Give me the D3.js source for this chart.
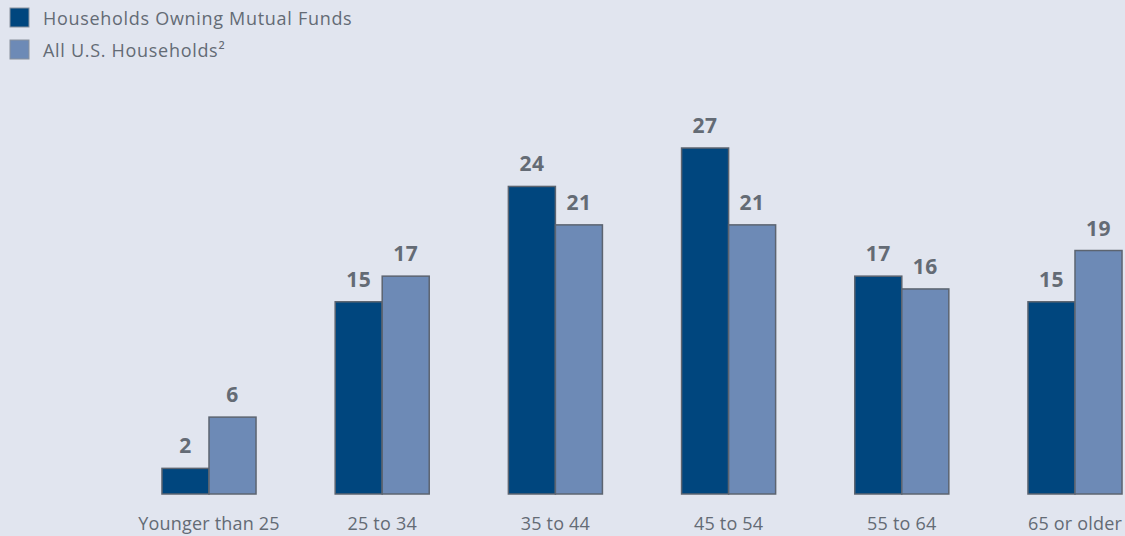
<!DOCTYPE html>
<html>
<head>
<meta charset="utf-8">
<script src="https://cdn.jsdelivr.net/npm/d3@7"></script>
<style>
  body { margin: 0; background: #e1e5ef; }
  svg { display: block; font-family: "Open Sans", sans-serif; }
</style>
</head>
<body>
<div id="chart"></div>
<script>
var categories = ["Younger than 25", "25 to 34", "35 to 44", "45 to 54", "55 to 64", "65 or older"];
var seriesNames = ["Households Owning Mutual Funds", "All U.S. Households\u00B2"];
var fundOwners = [2, 15, 24, 27, 17, 15];
var allHouseholds = [6, 17, 21, 21, 16, 19];
var colors = ["#00467e", "#6d8ab6"];

var width = 1125, height = 536;
var baseY = 494, topY = 148;

var svg = d3.select("#chart").append("svg")
    .attr("width", width)
    .attr("height", height);

svg.append("rect").attr("width", width).attr("height", height).attr("fill", "#e1e5ef");

var x = d3.scaleBand()
    .domain(categories)
    .range([122.4, 1161.6])
    .paddingInner(0.457)
    .paddingOuter(0.2285);

var sub = d3.scaleBand()
    .domain([0, 1])
    .range([0, x.bandwidth()]);

var y = d3.scaleLinear()
    .domain([0, 27])
    .range([baseY, topY]);

var rows = categories.map(function (c, i) {
    return { cat: c, vals: [fundOwners[i], allHouseholds[i]] };
});

var groups = svg.selectAll(".grp")
    .data(rows)
    .enter().append("g")
    .attr("class", "grp")
    .attr("transform", d => "translate(" + x(d.cat) + ",0)");

var cells = groups.selectAll(".bar")
    .data(d => d.vals.map((v, k) => ({ v: v, k: k })))
    .enter();

cells.append("rect")
    .attr("class", "bar")
    .attr("x", d => sub(d.k))
    .attr("y", d => y(d.v))
    .attr("width", sub.bandwidth())
    .attr("height", d => baseY - y(d.v))
    .attr("fill", d => colors[d.k])
    .attr("stroke", "#5c6470")
    .attr("stroke-width", 1.5);

cells.append("text")
    .attr("x", d => sub(d.k) + sub.bandwidth() / 2)
    .attr("y", d => y(d.v) - 15)
    .attr("text-anchor", "middle")
    .attr("fill", "#646b75")
    .attr("font-size", 21)
    .attr("font-weight", "bold")
    .attr("letter-spacing", 0.5)
    .text(d => d.v);

var xAxis = svg.append("g")
    .attr("transform", "translate(0," + baseY + ")")
    .call(d3.axisBottom(x).tickSize(0).tickPadding(23));
xAxis.select(".domain").remove();
xAxis.selectAll("text")
    .attr("fill", "#646b75")
    .attr("font-size", 18)
    .attr("letter-spacing", 0.2)
    .attr("font-family", "Open Sans, sans-serif");

var legend = svg.selectAll(".leg")
    .data(seriesNames)
    .enter().append("g")
    .attr("class", "leg")
    .attr("transform", (d, i) => "translate(10," + (8 + i * 32) + ")");

legend.append("rect")
    .attr("width", 19)
    .attr("height", 19)
    .attr("fill", (d, i) => colors[i])
    .attr("stroke", "#8a929e")
    .attr("stroke-width", 1);

legend.append("text")
    .attr("x", 33)
    .attr("y", 17)
    .attr("fill", "#646b75")
    .attr("font-size", 18)
    .attr("letter-spacing", 0.7)
    .text(d => d);
</script>
</body>
</html>
